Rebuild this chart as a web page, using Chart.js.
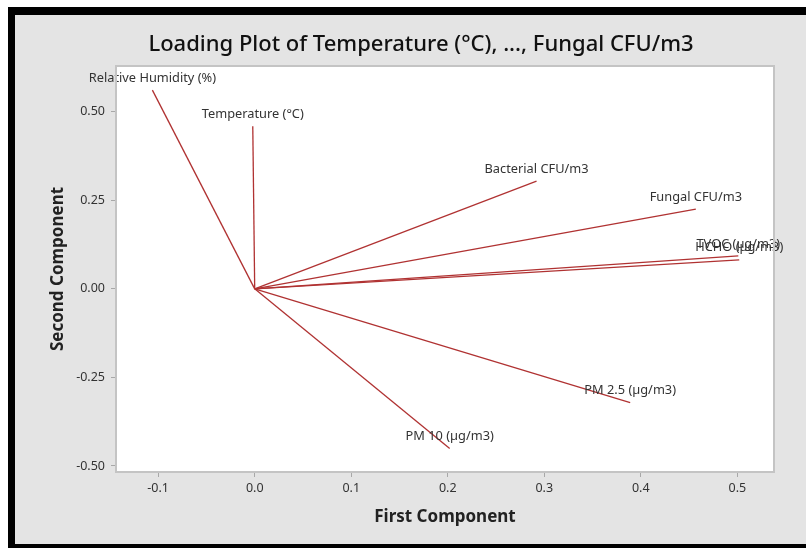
<!DOCTYPE html>
<html>
<head>
<meta charset="utf-8">
<script src="https://cdn.jsdelivr.net/npm/chart.js@4.4.1/dist/chart.umd.min.js"></script>
<style>
    html, body { margin: 0; padding: 0; background: #fff; }
    #wrap { position: relative; width: 806px; height: 548px; overflow: hidden; }
    #frame {
        position: absolute; left: 8px; top: 7px; right: 0; bottom: 0;
        border-left: 7px solid #000; border-top: 8px solid #000; border-bottom: 4px solid #000;
        background: #e4e4e4;
    }
    canvas { position: absolute; left: 0; top: 0; }
</style>
</head>
<body>
<div id="wrap">
    <div id="frame"></div>
    <canvas id="loadingCanvas" width="806" height="548"></canvas>
</div>
<script>
// variable names and their loadings on the first two components
const variables = [
    "Relative Humidity (%)", "Temperature (°C)", "Bacterial CFU/m3", "Fungal CFU/m3",
    "TVOC (µg/m3)", "HCHO (µg/m3)", "PM 2.5 (µg/m3)", "PM 10 (µg/m3)",
];
const firstComponent = [-0.106, -0.002, 0.292, 0.457, 0.501, 0.502, 0.389, 0.202];
const secondComponent = [0.561, 0.459, 0.304, 0.225, 0.093, 0.082, -0.321, -0.451];

const xTicks = [-0.1, 0.0, 0.1, 0.2, 0.3, 0.4, 0.5];
const yTicks = [-0.50, -0.25, 0.00, 0.25, 0.50];

const LINE_COLOR = "#b03232";
const FONT = "'Noto Sans', 'DejaVu Sans', sans-serif";

// white plot area with grey border
const plotFrame = {
    id: "plotFrame",
    beforeDraw(chart) {
        const { ctx, chartArea: a } = chart;
        ctx.save();
        ctx.fillStyle = "#fff";
        ctx.fillRect(a.left, a.top, a.right - a.left, a.bottom - a.top);
        ctx.restore();
    },
    afterDraw(chart) {
        const { ctx, chartArea: a } = chart;
        ctx.save();
        ctx.strokeStyle = "#c4c4c4";
        ctx.lineWidth = 2;
        ctx.strokeRect(a.left, a.top, a.right - a.left, a.bottom - a.top);
        ctx.restore();
    },
};

// variable labels above each vector end + chart title
const vectorLabels = {
    id: "vectorLabels",
    afterDatasetsDraw(chart) {
        const { ctx, scales: { x, y } } = chart;
        ctx.save();
        ctx.font = "12.8px " + FONT;
        ctx.fillStyle = "#333";
        ctx.textAlign = "center";
        ctx.textBaseline = "middle";
        variables.forEach((name, i) => {
            const px = x.getPixelForValue(firstComponent[i]);
            const py = y.getPixelForValue(secondComponent[i]);
            ctx.fillText(name, px, py - 12);
        });
        ctx.font = "500 22px " + FONT;
        ctx.fillStyle = "#111";
        ctx.fillText("Loading Plot of Temperature (°C), ..., Fungal CFU/m3", 421, 45);
        ctx.restore();
    },
};

const datasets = variables.map((name, i) => ({
    label: name,
    data: [{ x: 0, y: 0 }, { x: firstComponent[i], y: secondComponent[i] }],
    showLine: true,
    borderColor: LINE_COLOR,
    borderWidth: 1.3,
    pointRadius: 0,
    fill: false,
}));

new Chart(document.getElementById("loadingCanvas"), {
    type: "scatter",
    data: { datasets },
    options: {
        responsive: false,
        animation: false,
        layout: { padding: { left: 15, right: 32, top: 66, bottom: 4 } },
        plugins: {
            legend: { display: false },
            tooltip: { enabled: false },
        },
        scales: {
            x: {
                type: "linear",
                min: -0.1437,
                max: 0.538,
                afterBuildTicks: (s) => { s.ticks = xTicks.map((v) => ({ value: v })); },
                afterFit: (s) => { s.height = 72; },
                ticks: {
                    color: "#333",
                    font: { family: FONT, size: 12.5 },
                    padding: 4,
                    maxRotation: 0,
                    callback: (v) => Number(v).toFixed(1),
                },
                grid: { drawOnChartArea: false, tickLength: 5, color: "#a8a8a8" },
                border: { display: false },
                title: {
                    display: true,
                    text: "First Component",
                    color: "#222",
                    font: { family: FONT, size: 17, weight: "bold" },
                    padding: { top: 0, bottom: 17 },
                },
            },
            y: {
                type: "linear",
                min: -0.517,
                max: 0.629,
                afterBuildTicks: (s) => { s.ticks = yTicks.map((v) => ({ value: v })); },
                afterFit: (s) => { s.width = 101; },
                ticks: {
                    color: "#333",
                    font: { family: FONT, size: 12.5 },
                    padding: 6,
                    callback: (v) => Number(v).toFixed(2),
                },
                grid: { drawOnChartArea: false, tickLength: 5, color: "#a8a8a8" },
                border: { display: false },
                title: {
                    display: true,
                    text: "Second Component",
                    color: "#222",
                    font: { family: FONT, size: 17, weight: "bold" },
                    padding: { top: 33, bottom: 0 },
                },
            },
        },
    },
    plugins: [plotFrame, vectorLabels],
});
</script>
</body>
</html>
